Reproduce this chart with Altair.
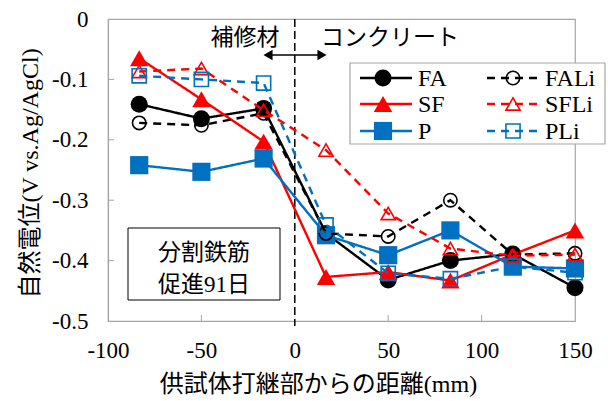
import altair as alt
import pandas as pd

# Distance from the construction joint (mm) for each measurement point
distance = [-83.3, -50.0, -16.7, 16.7, 50.0, 83.3, 116.7, 150.0]

# Half-cell potential (V vs. Ag/AgCl), 91 days of accelerated corrosion
fa = [-0.141, -0.165, -0.148, -0.355, -0.432, -0.400, -0.389, -0.445]
sf = [-0.065, -0.133, -0.203, -0.427, -0.419, -0.433, -0.390, -0.350]
p = [-0.242, -0.253, -0.231, -0.358, -0.391, -0.350, -0.410, -0.413]
fali = [-0.172, -0.176, -0.156, -0.355, -0.360, -0.300, -0.390, -0.388]
sfli = [-0.087, -0.082, -0.151, -0.217, -0.322, -0.380, -0.392, -0.390]
pli = [-0.094, -0.100, -0.106, -0.341, -0.421, -0.430, -0.410, -0.420]

series_names = ["FA", "SF", "P", "FALi", "SFLi", "PLi"]
series_values = [fa, sf, p, fali, sfli, pli]

x_ticks = [-100, -50, 0, 50, 100, 150]
y_ticks = [0, -0.1, -0.2, -0.3, -0.4, -0.5]
x_inner_ticks = [-50, 50, 100]
y_inner_ticks = [-0.1, -0.2, -0.3, -0.4]

BLACK = "#000000"
RED = "#FF0000"
BLUE = "#0070C0"
GRAY = "#A6A6A6"
SERIF = "'Liberation Serif', 'Times New Roman', 'Noto Sans CJK JP', serif"
GOTHIC = "'Noto Sans CJK JP', sans-serif"

W, H = 467, 302

styles = {
    "FA":   dict(color=BLACK, dash=[1, 0], shape="circle", filled=True, size=290),
    "SF":   dict(color=RED, dash=[1, 0], shape="triangle-up", filled=True, size=340),
    "P":    dict(color=BLUE, dash=[1, 0], shape="square", filled=True, size=330),
    "FALi": dict(color=BLACK, dash=[8, 6], shape="circle", filled=False, size=180),
    "SFLi": dict(color=RED, dash=[8, 6], shape="triangle-up", filled=False, size=200),
    "PLi":  dict(color=BLUE, dash=[8, 6], shape="square", filled=False, size=200),
}

xscale = alt.Scale(domain=[-100, 150], nice=False, zero=False)
yscale = alt.Scale(domain=[-0.5, 0], nice=False, zero=False)

x_enc = alt.X(
    "x:Q", scale=xscale,
    axis=alt.Axis(
        values=x_ticks, title="供試体打継部からの距離(mm)",
        labelExpr="datum.value + ''", labelFlush=False, labelOverlap=False,
        titleX=210, titleY=63, titleBaseline="middle",
    ),
)
y_enc = alt.Y(
    "y:Q", scale=yscale,
    axis=alt.Axis(
        values=y_ticks, title="自然電位(V vs.Ag/AgCl)",
        labelExpr="datum.value + ''", labelFlush=False, labelOverlap=False,
        titleX=-78, titleY=154, titleAngle=-90, titleBaseline="middle",
        titleAlign="center",
    ),
)

layers = []
for name, vals in zip(series_names, series_values):
    st = styles[name]
    df = pd.DataFrame({"x": distance, "y": vals})
    base = alt.Chart(df)
    layers.append(
        base.mark_line(color=st["color"], strokeDash=st["dash"], strokeWidth=2.4)
        .encode(x=x_enc, y=y_enc)
    )
    layers.append(
        base.mark_point(
            shape=st["shape"], filled=st["filled"], size=st["size"],
            color=st["color"], strokeWidth=1.6, opacity=1,
        ).encode(x=x_enc, y=y_enc)
    )

# Inward tick marks on the bottom and left edges
xt = alt.Chart(pd.DataFrame({"x": x_inner_ticks})).mark_rule(color=GRAY, strokeWidth=1).encode(
    x=alt.X("x:Q", scale=xscale), y=alt.value(H), y2=alt.value(H - 6)
)
yt = alt.Chart(pd.DataFrame({"y": y_inner_ticks})).mark_rule(color=GRAY, strokeWidth=1).encode(
    y=alt.Y("y:Q", scale=yscale), x=alt.value(0), x2=alt.value(6)
)

# Boundary between repair material and concrete
joint = alt.Chart(pd.DataFrame({"x": [0]})).mark_rule(
    color=BLACK, strokeDash=[8, 4], strokeWidth=1.5
).encode(x=alt.X("x:Q", scale=xscale), y=alt.value(0), y2=alt.value(H + 5))

# Region labels and double-headed arrow
region_text = alt.Chart(pd.DataFrame({
    "label": ["補修材", "コンクリート"], "px": [137, 282]
})).mark_text(font=GOTHIC, fontSize=23, color=BLACK, baseline="middle").encode(
    text="label:N", x=alt.X("px:Q", scale=None), y=alt.value(19)
)
arrow_line = alt.Chart(pd.DataFrame({"a": [0]})).mark_rule(color=BLACK, strokeWidth=1.5).encode(
    x=alt.value(158), x2=alt.value(216), y=alt.value(36)
)
arrow_heads = alt.Chart(pd.DataFrame({
    "shape": ["triangle-left", "triangle-right"], "px": [160, 214]
})).mark_point(filled=True, color=BLACK, size=110, opacity=1).encode(
    x=alt.X("px:Q", scale=None), y=alt.value(36),
    shape=alt.Shape("shape:N", scale=None, legend=None)
)

# Condition box
cond_box = alt.Chart(pd.DataFrame({"a": [0]})).mark_rect(
    fill="white", stroke=BLACK, strokeWidth=1
).encode(x=alt.value(20), x2=alt.value(172), y=alt.value(209), y2=alt.value(281))
cond_text = alt.Chart(pd.DataFrame({
    "label": ["分割鉄筋", "促進91日"], "py": [234, 266]
})).mark_text(font=SERIF, fontSize=23, color=BLACK, baseline="middle").encode(
    text="label:N", x=alt.value(96), y=alt.Y("py:Q", scale=None)
)

# Legend built from the same style table
leg_box = alt.Chart(pd.DataFrame({"a": [0]})).mark_rect(
    fill="white", stroke=GRAY, strokeWidth=1.2
).encode(x=alt.value(242), x2=alt.value(497), y=alt.value(44), y2=alt.value(125))

leg_layers = [leg_box]
rows_y = [59, 85, 112]
for i, name in enumerate(series_names):
    st = styles[name]
    col = i // 3
    ry = rows_y[i % 3]
    x0, x1, xm, xl = (252, 304, 275, 310) if col == 0 else (379, 430, 405, 437)
    one = alt.Chart(pd.DataFrame({"label": [name]}))
    leg_layers.append(
        one.mark_rule(color=st["color"], strokeDash=st["dash"], strokeWidth=2.4).encode(
            x=alt.value(x0), x2=alt.value(x1), y=alt.value(ry)
        )
    )
    leg_layers.append(
        one.mark_point(
            shape=st["shape"], filled=st["filled"], size=st["size"],
            color=st["color"], strokeWidth=1.6, opacity=1,
        ).encode(x=alt.value(xm), y=alt.value(ry))
    )
    leg_layers.append(
        one.mark_text(font=SERIF, fontSize=24, color=BLACK, align="left", baseline="middle").encode(
            text="label:N", x=alt.value(xl), y=alt.value(ry + 1)
        )
    )

chart = alt.layer(
    xt, yt, joint, *layers, region_text, arrow_line, arrow_heads,
    cond_box, cond_text, *leg_layers
).properties(
    width=W, height=H,
    autosize=alt.AutoSizeParams(type="none"),
    padding={"left": 108, "top": 19, "right": 33, "bottom": 80},
).configure_view(
    stroke=GRAY, strokeWidth=1.2
).configure_axis(
    grid=False, ticks=False, domainColor=GRAY, domainWidth=1.2,
    labelFont=SERIF, labelFontSize=23, labelColor=BLACK,
    titleFont=SERIF, titleFontSize=24, titleFontWeight="normal", titleColor=BLACK,
).configure_axisX(labelPadding=18).configure_axisY(labelPadding=20)

chart.save("out.html", embed_options={"renderer": "svg", "actions": False})
